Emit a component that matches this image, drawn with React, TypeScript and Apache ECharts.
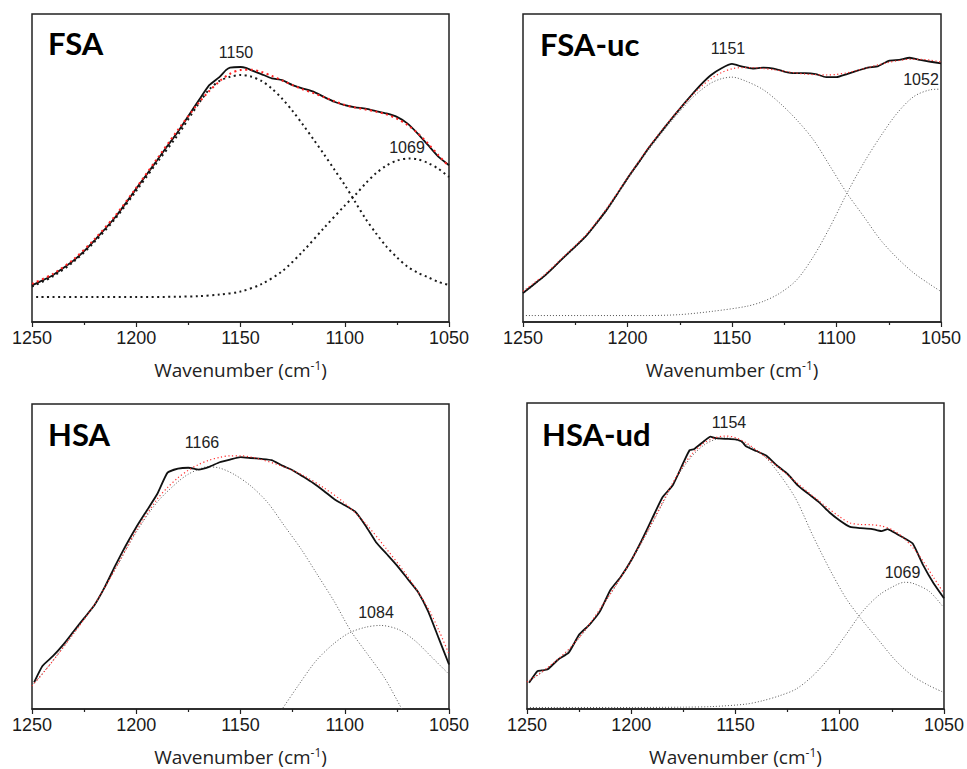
import React, { useEffect, useRef } from "react";
import * as echarts from "echarts";

// ---------- DATA (wavenumber, relative absorbance) ----------
const xTicks = [1250, 1200, 1150, 1100, 1050];
const panelNames = ["FSA", "FSA-uc", "HSA", "HSA-ud"];
const peakLabels = [["1150", "1069"], ["1151", "1052"], ["1166", "1084"], ["1154", "1069"]];

const fsaExp = [[1250,11.9],[1245,13.5],[1240,15.2],[1235,17.5],[1230,20.0],[1225,23.0],[1220,26.5],[1215,30.2],[1210,34.1],[1205,38.6],[1200,43.3],[1195,47.9],[1190,52.5],[1185,57.2],[1180,61.8],[1175,66.9],[1170,72.0],[1165,76.9],[1160,79.6],[1157,81.8],[1155,82.6],[1150,82.8],[1147,82.4],[1145,81.8],[1140,80.5],[1135,79.1],[1130,78.5],[1125,76.9],[1120,75.8],[1115,74.8],[1110,73.1],[1105,71.5],[1100,70.4],[1095,69.7],[1090,69.3],[1085,68.5],[1080,67.7],[1075,66.6],[1070,64.5],[1065,61.2],[1060,57.4],[1055,53.6],[1050,50.9]];
const fsaFit = [[1250,12.4],[1240,15.6],[1230,20.4],[1220,26.9],[1210,34.6],[1200,43.6],[1190,53.0],[1180,62.4],[1170,71.2],[1165,75.0],[1160,78.2],[1155,80.6],[1150,81.8],[1145,81.9],[1140,81.2],[1135,79.9],[1130,78.4],[1125,76.9],[1120,75.5],[1115,74.3],[1110,73.0],[1105,71.7],[1100,70.5],[1095,69.6],[1090,69.0],[1085,68.3],[1080,67.4],[1075,66.0],[1070,64.0],[1065,61.3],[1060,57.9],[1055,54.1],[1050,50.5]];
const fsaP1 = [[1250,11.5],[1240,14.8],[1230,19.6],[1220,26.0],[1210,33.6],[1200,42.6],[1190,51.8],[1180,60.8],[1170,71.0],[1165,75.5],[1160,78.3],[1155,79.6],[1150,80.2],[1145,79.7],[1140,78.3],[1135,75.8],[1130,72.5],[1125,68.5],[1120,64.0],[1115,59.3],[1110,54.5],[1105,49.5],[1100,44.5],[1095,39.0],[1090,33.5],[1085,28.8],[1080,24.5],[1075,21.0],[1070,18.0],[1065,16.0],[1060,14.5],[1055,13.0],[1050,12.0]];
const fsaP2 = [[1248,8.1],[1220,8.1],[1200,8.1],[1180,8.2],[1170,8.4],[1160,8.9],[1150,9.9],[1140,12.3],[1130,16.5],[1120,23.0],[1110,30.5],[1100,37.8],[1095,41.2],[1090,45.0],[1085,48.3],[1080,50.8],[1075,52.4],[1069,53.1],[1065,52.8],[1060,51.6],[1055,49.7],[1050,47.1]];

const fsaucExp = [[1250,9.4],[1245,12.1],[1240,14.8],[1235,18.0],[1230,21.3],[1225,24.5],[1220,27.8],[1215,32.0],[1210,36.4],[1205,41.5],[1200,46.7],[1195,51.5],[1190,56.4],[1185,60.8],[1180,65.1],[1175,69.2],[1170,73.2],[1165,77.0],[1160,80.2],[1155,82.4],[1150,83.8],[1145,82.9],[1140,82.3],[1135,82.6],[1130,82.3],[1125,81.3],[1120,80.8],[1115,80.8],[1110,80.5],[1105,79.5],[1100,79.5],[1095,80.5],[1090,81.6],[1085,82.6],[1080,83.1],[1075,84.8],[1070,85.1],[1065,85.8],[1060,85.1],[1055,84.5],[1050,84.0]];
const fsaucFit = [[1250,10.0],[1240,15.2],[1230,21.6],[1220,28.2],[1210,36.8],[1200,46.8],[1190,56.6],[1180,65.3],[1170,73.0],[1165,76.3],[1160,79.0],[1155,81.0],[1150,82.2],[1145,82.6],[1140,82.6],[1135,82.3],[1130,81.9],[1125,81.4],[1120,80.9],[1115,80.5],[1110,80.3],[1105,80.2],[1100,80.4],[1095,80.9],[1090,81.7],[1085,82.6],[1080,83.5],[1075,84.3],[1070,84.9],[1065,85.3],[1060,85.3],[1055,85.0],[1050,84.4]];
const fsaucP1 = [[1250,9.2],[1240,14.6],[1230,21.0],[1220,27.5],[1210,36.0],[1200,46.2],[1190,55.8],[1180,64.4],[1170,72.1],[1165,75.2],[1160,77.6],[1155,79.0],[1150,79.5],[1143,78.1],[1135,75.4],[1127,71.0],[1119,65.6],[1111,59.1],[1103,50.5],[1095,41.8],[1087,34.3],[1079,26.7],[1071,20.8],[1063,15.9],[1055,12.1],[1050,9.9]];
const fsaucP2 = [[1250,2.1],[1220,2.1],[1191,2.1],[1175,2.4],[1159,3.5],[1143,5.1],[1135,6.7],[1127,9.4],[1119,13.7],[1111,21.3],[1103,31.0],[1095,41.8],[1087,51.6],[1079,60.2],[1071,67.8],[1063,73.2],[1055,75.4],[1050,75.6]];

const hsaExp = [[1249,8.7],[1245,14.1],[1240,17.3],[1235,21.1],[1230,25.5],[1225,29.8],[1220,34.1],[1215,40.1],[1210,47.1],[1205,53.6],[1200,59.6],[1195,65.0],[1190,70.4],[1185,77.5],[1180,78.8],[1175,79.1],[1170,78.5],[1165,79.4],[1160,80.9],[1155,81.8],[1150,82.6],[1145,82.3],[1140,82.0],[1135,81.6],[1130,79.8],[1125,78.3],[1120,76.2],[1115,74.0],[1110,71.5],[1105,68.8],[1100,66.8],[1095,64.7],[1090,60.1],[1085,54.7],[1080,50.9],[1075,47.1],[1070,42.8],[1065,38.5],[1060,32.0],[1055,23.3],[1050,14.6]];
const hsaFit = [[1250,7.6],[1245,11.5],[1240,15.8],[1230,24.8],[1220,34.3],[1210,46.0],[1200,58.5],[1190,68.8],[1185,72.6],[1180,75.8],[1175,78.3],[1170,80.2],[1165,81.6],[1160,82.5],[1155,83.0],[1150,83.0],[1145,82.6],[1140,81.8],[1130,79.6],[1120,76.6],[1110,72.5],[1100,67.5],[1090,60.8],[1080,52.5],[1070,43.6],[1060,33.0],[1055,26.0],[1050,18.0]];
const hsaP1 = [[1250,7.6],[1240,15.8],[1230,24.8],[1220,34.3],[1210,46.0],[1200,58.0],[1190,67.8],[1180,74.5],[1175,77.0],[1170,78.6],[1166,79.4],[1160,79.0],[1153,76.9],[1145,73.1],[1137,67.7],[1129,60.1],[1121,52.5],[1113,43.9],[1105,35.2],[1097,25.5],[1089,17.9],[1081,10.3],[1073,0.5],[1070,-3]];
const hsaP2 = [[1132,-2],[1130,0],[1122,8.0],[1114,15.6],[1106,21.0],[1098,24.9],[1090,26.8],[1083,27.4],[1074,26.0],[1066,22.2],[1058,16.8],[1050,11.4]];

const hsaudExp = [[1249,8.6],[1245,12.4],[1243,12.6],[1240,13.0],[1235,16.2],[1230,18.4],[1225,24.3],[1220,27.6],[1215,31.9],[1210,38.9],[1205,43.2],[1200,48.6],[1195,55.1],[1190,62.2],[1185,69.2],[1180,73.2],[1175,80.5],[1172,84.6],[1170,84.9],[1165,87.6],[1162,89.0],[1160,88.6],[1155,88.3],[1150,88.1],[1147,87.4],[1145,85.9],[1140,84.3],[1135,82.7],[1130,79.5],[1125,76.8],[1120,73.0],[1115,70.3],[1110,67.6],[1105,64.3],[1100,61.6],[1095,59.5],[1090,59.1],[1085,58.9],[1080,58.1],[1077,58.8],[1075,58.1],[1070,56.2],[1065,54.1],[1060,47.0],[1055,41.1],[1050,36.2]];
const hsaudFit = [[1250,8.8],[1240,13.6],[1230,19.5],[1220,27.8],[1210,37.8],[1200,48.6],[1190,61.0],[1180,74.0],[1175,79.6],[1170,84.0],[1165,87.0],[1160,88.6],[1155,89.2],[1150,88.7],[1145,87.0],[1140,84.6],[1135,82.0],[1130,79.3],[1120,73.6],[1110,68.0],[1100,62.8],[1095,60.8],[1090,60.3],[1085,60.2],[1080,59.8],[1075,58.6],[1070,56.3],[1065,52.8],[1060,48.3],[1055,43.0],[1050,37.8]];
const hsaudP1 = [[1250,8.6],[1240,13.4],[1230,19.3],[1220,27.5],[1210,37.5],[1200,48.3],[1190,60.6],[1180,73.5],[1175,79.0],[1170,83.3],[1165,86.3],[1160,88.0],[1154,88.6],[1145,86.5],[1137,83.2],[1129,76.8],[1121,68.6],[1113,56.8],[1105,45.9],[1097,36.2],[1090,29.7],[1081,22.2],[1073,15.7],[1065,10.8],[1057,7.6],[1050,5.4]];
const hsaudP2 = [[1250,0.5],[1200,0.5],[1175,0.6],[1161,0.8],[1145,1.6],[1137,2.7],[1129,4.3],[1121,6.5],[1113,10.8],[1105,16.8],[1097,24.3],[1089,31.9],[1081,37.3],[1073,40.5],[1069,41.4],[1065,41.1],[1057,38.4],[1050,33.0]];

const panelData = [
  { exp: fsaExp, fit: fsaFit, p1: fsaP1, p2: fsaP2 },
  { exp: fsaucExp, fit: fsaucFit, p1: fsaucP1, p2: fsaucP2 },
  { exp: hsaExp, fit: hsaFit, p1: hsaP1, p2: hsaP2 },
  { exp: hsaudExp, fit: hsaudFit, p1: hsaudP1, p2: hsaudP2 },
];

// ---------- LAYOUT ----------
const grids = [
  { left: 32, top: 14, width: 417, height: 308 },
  { left: 523, top: 14, width: 418, height: 308 },
  { left: 32, top: 404, width: 417, height: 308 },
  { left: 527, top: 403, width: 417, height: 309 },
];
const nameXY = [[48, 46], [540, 47], [48, 437], [542, 437]];
const peakXY = [
  [[236, 52], [407, 147]],
  [[728, 48.5], [921, 79]],
  [[202, 442.5], [376, 612]],
  [[729, 422.5], [902.5, 572]],
];

export default function App() {
  const ref = useRef<HTMLDivElement>(null);
  useEffect(() => {
    document.body.style.margin = "0";
    if (!ref.current) return;
    const chart = echarts.init(ref.current, null, { renderer: "svg" });
    const axisColor = "#222";
    const xAxis: any[] = [];
    const yAxis: any[] = [];
    const series: any[] = [];
    const graphic: any[] = [];
    grids.forEach((g, i) => {
      xAxis.push({
        type: "value",
        gridIndex: i,
        min: 1050,
        max: 1250,
        interval: 50,
        inverse: true,
        axisLine: { show: true, lineStyle: { color: axisColor, width: 1.5 } },
        axisTick: { show: true, length: 5, lineStyle: { color: axisColor, width: 1.2 } },
        minorTick: { show: true, splitNumber: 2, length: 3, lineStyle: { color: axisColor, width: 1.2 } },
        splitLine: { show: false },
        axisLabel: {
          show: true,
          margin: 7,
          fontSize: 18,
          color: "#1a1a1a",
          fontFamily: "Liberation Sans",
          showMinLabel: true,
          showMaxLabel: true,
          formatter: (v: number) => (xTicks.includes(v) ? String(v) : ""),
        },
        name: "Wavenumber (cm{sup|-1})",
        nameLocation: "middle",
        nameGap: 37,
        nameTextStyle: {
          fontSize: 19,
          fontFamily: "Open Sans",
          color: "#222",
          lineHeight: 22,
          rich: {
            sup: { fontSize: 12, fontFamily: "Open Sans", color: "#222", verticalAlign: "top", lineHeight: 12 },
          },
        },
      });
      yAxis.push({ type: "value", gridIndex: i, min: 0, max: 100, show: false });
      const d = panelData[i];
      const bold = i === 0;
      const compStyle = bold
        ? { color: "#1a1a1a", width: 2, type: [2, 3.5] }
        : { color: "#555", width: 1, type: [1, 2] };
      const fitStyle = bold
        ? { color: "#ff2020", width: 2, type: [2, 3.5] }
        : { color: "#ff3030", width: 1.2, type: [1.2, 2.5] };
      const base = { type: "line", xAxisIndex: i, yAxisIndex: i, symbol: "none", showSymbol: false, clip: true, silent: true };
      series.push({ ...base, name: `p1-${i}`, data: d.p1, smooth: 0.3, lineStyle: compStyle });
      series.push({ ...base, name: `p2-${i}`, data: d.p2, smooth: 0.3, lineStyle: compStyle });
      series.push({ ...base, name: `exp-${i}`, data: d.exp, smooth: 0.15, lineStyle: { color: "#111", width: 1.8 } });
      series.push({ ...base, name: `fit-${i}`, data: d.fit, smooth: 0.3, lineStyle: fitStyle });

      graphic.push({
        type: "text",
        left: nameXY[i][0],
        top: nameXY[i][1] - 19,
        style: { text: panelNames[i], font: "bold 31px Lato", fill: "#000" },
      });
      peakLabels[i].forEach((t, k) => {
        graphic.push({
          type: "text",
          x: peakXY[i][k][0],
          y: peakXY[i][k][1],
          style: { text: t, font: "16px 'Liberation Sans'", fill: "#222", align: "center", verticalAlign: "middle" },
        });
      });
    });
    chart.setOption({
      animation: false,
      backgroundColor: "#fff",
      grid: grids.map((g) => ({ ...g, show: true, borderColor: axisColor, borderWidth: 1.5, backgroundColor: "transparent" })),
      xAxis,
      yAxis,
      series,
      graphic,
    });
    return () => chart.dispose();
  }, []);
  return <div ref={ref} style={{ width: 967, height: 769 }} />;
}
